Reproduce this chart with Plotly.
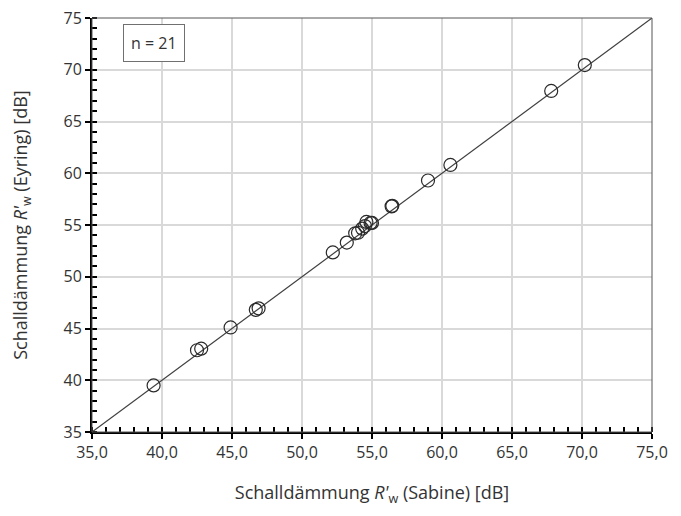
import plotly.graph_objects as go

# Data
sabine = [39.4, 42.5, 42.8, 44.9, 46.7, 46.9, 52.2, 53.2,
          53.8, 54.0, 54.3, 54.5, 54.6, 54.9, 55.0,
          56.4, 56.45, 59.0, 60.6, 67.8, 70.2]
eyring = [39.5, 42.9, 43.05, 45.1, 46.8, 46.95, 52.35, 53.3,
          54.2, 54.25, 54.65, 54.9, 55.3, 55.2, 55.2,
          56.8, 56.85, 59.3, 60.8, 67.95, 70.45]
ref_line = [35, 75]

x_ticks = [35, 40, 45, 50, 55, 60, 65, 70, 75]
x_ticktext = ["35,0", "40,0", "45,0", "50,0", "55,0", "60,0", "65,0", "70,0", "75,0"]
y_ticks = [35, 40, 45, 50, 55, 60, 65, 70, 75]
y_ticktext = ["35", "40", "45", "50", "55", "60", "65", "70", "75"]

FONT = "Open Sans"
TXT = "#333333"

fig = go.Figure()
fig.add_trace(go.Scatter(x=ref_line, y=ref_line, mode="lines",
                         line=dict(color="#404040", width=1.2),
                         hoverinfo="skip", showlegend=False))
fig.add_trace(go.Scatter(x=sabine, y=eyring, mode="markers",
                         marker=dict(symbol="circle-open", size=13,
                                     color="#2a2a2a", line=dict(width=1.2)),
                         showlegend=False))
# dummy trace for overlay axes (inside major ticks)
fig.add_trace(go.Scatter(x=[35], y=[35], xaxis="x2", yaxis="y2", mode="markers",
                         marker=dict(opacity=0), hoverinfo="skip", showlegend=False))

common = dict(range=[35, 75], showgrid=True, gridcolor="#d9d9d9", gridwidth=1.5,
              zeroline=False, showline=True, linecolor="black", linewidth=2,
              ticks="outside", ticklen=5, tickwidth=2, tickcolor="black",
              tickfont=dict(family=FONT, size=16, color=TXT),
              ticklabeloverflow="allow", automargin=False,
              minor=dict(ticks="inside", ticklen=5, tickwidth=2, tickcolor="black",
                         dtick=1, showgrid=False))

fig.update_layout(
    width=681, height=516,
    margin=dict(l=84, r=37, t=10, b=92),
    paper_bgcolor="white", plot_bgcolor="white",
    xaxis=dict(**common, tickvals=x_ticks, ticktext=x_ticktext,
               title=dict(text="Schalldämmung <i>R'</i><sub>w</sub> (Sabine) [dB]",
                          font=dict(family=FONT, size=18, color=TXT), standoff=24)),
    yaxis=dict(**common, tickvals=y_ticks, ticktext=y_ticktext,
               title=dict(text="Schalldämmung <i>R'</i><sub>w</sub> (Eyring) [dB]",
                          font=dict(family=FONT, size=18, color=TXT), standoff=32)),
    xaxis2=dict(overlaying="x", matches="x", range=[35, 75], tickvals=x_ticks,
                showticklabels=False, showgrid=False, zeroline=False,
                ticks="inside", ticklen=5, tickwidth=2, tickcolor="black", anchor="y2"),
    yaxis2=dict(overlaying="y", matches="y", range=[35, 75], tickvals=y_ticks,
                showticklabels=False, showgrid=False, zeroline=False,
                ticks="inside", ticklen=5, tickwidth=2, tickcolor="black", anchor="x2"),
    shapes=[dict(type="rect", xref="x domain", yref="y domain", x0=0, x1=1, y0=0, y1=1,
                 line=dict(color="#555555", width=1), layer="above")],
    annotations=[dict(text="n = 21", xref="paper", yref="paper", x=0.055, y=0.985,
                      xanchor="left", yanchor="top", showarrow=False,
                      font=dict(family=FONT, size=16, color=TXT),
                      bordercolor="#707070", borderwidth=1, borderpad=7,
                      bgcolor="white")],
)

fig.write_html("out.html")
